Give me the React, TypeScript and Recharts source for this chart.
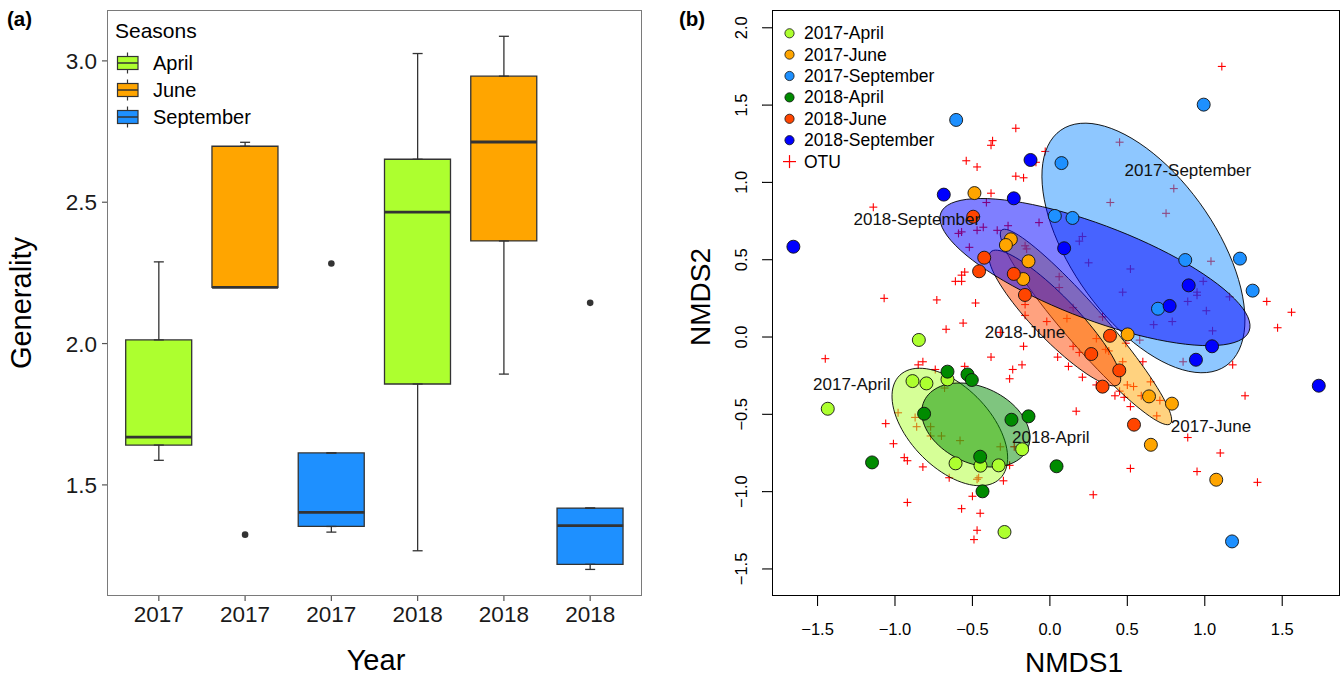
import React from "react";
import {
  ComposedChart,
  ScatterChart,
  Bar,
  Cell,
  Scatter,
  ErrorBar,
  XAxis,
  YAxis,
} from "recharts";

const FONT = "'Liberation Sans', Arial, Helvetica, sans-serif";

// ---- panel (a): generality box plots ----
const boxKeys = ["2017-April", "2017-June", "2017-September", "2018-April", "2018-June", "2018-September"];
const boxSeasons = ["April", "June", "September", "April", "June", "September"];
const whiskerLow = [1.587, 2.199, 1.333, 1.267, 1.892, 1.201];
const q1 = [1.641, 2.199, 1.353, 1.857, 2.363, 1.219];
const median = [1.669, 2.199, 1.403, 2.465, 2.713, 1.356];
const q3 = [2.013, 2.698, 1.613, 2.652, 2.946, 1.418];
const whiskerHigh = [2.289, 2.712, 1.613, 3.026, 3.087, 1.418];
const outlier = [null, 1.324, 2.283, null, null, 2.144];
const genTicks = [1.5, 2.0, 2.5, 3.0];

const seasonNames = ["April", "June", "September"];
const seasonColors: Record<string, string> = {
  April: "#ADFF2F",
  June: "#FFA500",
  September: "#1E90FF",
};

const boxData = boxKeys.map((key, i) => ({
  key,
  season: boxSeasons[i],
  box: [q1[i], q3[i]],
  q1: q1[i],
  q3: q3[i],
  median: median[i],
  outlier: outlier[i],
  upErr: [0, whiskerHigh[i] - q3[i]],
  loErr: [q1[i] - whiskerLow[i], 0],
}));

// ---- panel (b): NMDS ----
const groupNames = ["2017-April", "2017-June", "2017-September", "2018-April", "2018-June", "2018-September"];
const groupColors = ["#ADFF2F", "#FFA500", "#1E90FF", "#008B00", "#FF4500", "#0000FF"];

const april2017 = [[-1.434, -0.464], [-0.846, -0.019], [-0.887, -0.285], [-0.797, -0.30], [-0.661, -0.274], [-0.609, -0.817], [-0.448, -0.832], [-0.331, -0.830], [-0.179, -0.726], [-0.293, -1.261]];
const june2017 = [[-0.487, 0.931], [-0.252, 0.632], [-0.284, 0.595], [-0.138, 0.490], [-0.172, 0.375], [0.502, 0.017], [0.640, -0.384], [0.788, -0.431], [0.652, -0.697], [1.074, -0.923]];
const sept2017 = [[-0.605, 1.404], [0.993, 1.503], [0.075, 1.125], [0.032, 0.783], [0.146, 0.770], [0.874, 0.498], [1.227, 0.507], [1.309, 0.300], [0.698, 0.183], [1.176, -1.322]];
const april2018 = [[-1.148, -0.811], [-0.661, -0.224], [-0.532, -0.242], [-0.504, -0.278], [-0.812, -0.496], [-0.450, -0.774], [-0.435, -0.998], [-0.248, -0.535], [-0.138, -0.513], [0.043, -0.836]];
const june2018 = [[-0.495, 0.778], [-0.424, 0.513], [-0.457, 0.425], [-0.233, 0.408], [-0.161, 0.272], [0.388, 0.008], [0.267, -0.110], [0.448, -0.216], [0.340, -0.321], [0.543, -0.567]];
const sept2018 = [[-1.656, 0.584], [-0.685, 0.921], [-0.233, 0.897], [-0.125, 1.145], [0.092, 0.574], [0.896, 0.334], [0.773, 0.201], [1.047, -0.060], [0.943, -0.147], [1.736, -0.315]];
const groupPoints = [april2017, june2017, sept2017, april2018, june2018, sept2018];

// OTU scores (red crosses)
const otu = [
  [-0.37, 1.27], [-0.38, 1.24], [-0.54, 1.14], [-0.47, 1.10], [-0.38, 0.93], [-1.14, 0.84], [-0.41, 0.87], [-0.43, 0.71], [-0.47, 0.69], [-0.59, 0.67],
  [-0.57, 0.68], [-0.52, 0.58], [-0.55, 0.42], [-0.57, 0.40], [-0.61, 0.36], [-0.57, 0.36], [-1.07, 0.25], [-0.73, 0.24], [-0.48, 0.22], [-0.56, 0.09],
  [-0.67, 0.05], [-0.32, 0.03], [-0.22, 1.04], [-0.17, 1.03], [-0.03, 1.20], [-0.07, 0.74], [-0.27, 0.72], [-0.34, 0.69], [-0.16, 0.59], [-0.15, 0.57],
  [0.19, 0.62], [0.21, 0.65], [0.25, 0.48], [0.06, 0.39], [0.06, 0.32], [-0.16, 0.21], [0.15, 0.19], [-0.16, 0.14], [-0.02, 0.10], [0.11, 0.12],
  [0.30, -0.01], [-0.17, -0.06], [0.15, -0.06], [0.19, -0.10], [-0.38, -0.13], [0.05, -0.13], [-0.18, -0.18], [-0.24, -0.21], [0.12, -0.19], [-0.55, -0.19],
  [-0.85, -0.18], [-0.82, -0.16], [-0.74, -0.21], [-0.26, -0.27], [0.21, -0.26], [1.11, 1.75], [-0.22, 1.35], [0.45, 1.26], [-0.09, 1.13], [0.80, 0.96],
  [0.39, 0.87], [0.75, 0.80], [1.04, 0.49], [0.52, 0.44], [0.99, 0.36], [0.47, 0.29], [0.95, 0.29], [0.95, 0.27], [1.16, 0.26], [1.40, 0.23],
  [1.56, 0.16], [0.89, 0.23], [1.01, 0.17], [1.47, 0.06], [0.34, 0.13], [0.67, 0.08], [0.79, 0.10], [1.05, 0.04], [0.36, -0.08], [0.38, -0.09],
  [0.49, -0.04], [0.58, -0.02], [0.60, -0.16], [0.47, -0.16], [0.65, -0.29], [0.50, -0.31], [0.54, -0.32], [0.30, -0.31], [0.45, -0.35], [0.42, -0.38],
  [0.48, -0.39], [0.59, -0.38], [0.52, -0.45], [0.71, -0.41], [0.69, -0.51], [0.17, -0.48], [1.26, -0.38], [1.18, -0.18], [0.86, -0.16], [0.89, -0.65],
  [1.10, -0.75], [0.95, -0.87], [1.34, -0.94], [0.52, -0.85], [0.28, -1.02], [-0.26, -0.83], [-0.30, -0.93], [-0.23, -0.71], [-1.45, -0.14], [-0.68, -0.33],
  [-0.98, -0.49], [-1.06, -0.56], [-0.87, -0.52], [-0.86, -0.58], [-0.77, -0.58], [-0.77, -0.64], [-0.70, -0.64], [-0.58, -0.67], [-1.01, -0.69], [-0.94, -0.78],
  [-0.92, -0.80], [-0.82, -0.84], [-0.65, -0.91], [-0.47, -0.92], [-0.46, -0.91], [-0.92, -1.07], [-0.50, -1.03], [-0.57, -1.11], [-0.45, -1.14], [-0.47, -1.25],
  [-0.49, -1.31], [-0.32, -0.71],
];

// group ellipses: centre, semi-axes and rotation (degrees, NMDS space)
const ellipseCx = [-0.646, 0.233, 0.604, -0.478, 0.032, 0.291];
const ellipseCy = [-0.582, 0.065, 0.576, -0.569, 0.123, 0.420];
const ellipseA = [0.465, 0.83, 0.93, 0.368, 0.595, 1.066];
const ellipseB = [0.26, 0.13, 0.465, 0.246, 0.14, 0.304];
const ellipseAngle = [-46, -49, -55, -25, -46, -21];

const labelX = [-1.279, 1.040, 0.891, 0.006, -0.161, -0.859];
const labelY = [-0.310, -0.576, 1.080, -0.647, 0.026, 0.763];

const xTicksB = [-1.5, -1.0, -0.5, 0.0, 0.5, 1.0, 1.5];
const yTicksB = [-1.5, -1.0, -0.5, 0.0, 0.5, 1.0, 1.5, 2.0];

function ellipseOutline(i: number) {
  const phi = (ellipseAngle[i] * Math.PI) / 180;
  const pts: { x: number; y: number }[] = [];
  const n = 90;
  for (let k = 0; k <= n; k++) {
    const t = (k / n) * 2 * Math.PI;
    const u = ellipseA[i] * Math.cos(t);
    const v = ellipseB[i] * Math.sin(t);
    pts.push({
      x: ellipseCx[i] + u * Math.cos(phi) - v * Math.sin(phi),
      y: ellipseCy[i] + u * Math.sin(phi) + v * Math.cos(phi),
    });
  }
  return pts;
}

const otuData = otu.map(([x, y]) => ({ x, y }));
const labelData = groupNames.map((label, i) => ({ x: labelX[i], y: labelY[i], label }));

const fmtMinus = (v: number) => v.toFixed(1).replace("-", "\u2212");

const Empty = () => <g />;

const MedianLine = (p: any) =>
  p.cy == null || isNaN(p.cy) ? <g /> : (
    <line x1={p.cx - 33} x2={p.cx + 33} y1={p.cy} y2={p.cy} stroke="#333" strokeWidth={2.8} />
  );

const OutlierDot = (p: any) =>
  p.cy == null || isNaN(p.cy) ? <g /> : <circle cx={p.cx} cy={p.cy} r={3.3} fill="#333" />;

const Cross = (p: any) => (
  <g stroke="#FF0000" strokeWidth={1.1}>
    <line x1={p.cx - 4} x2={p.cx + 4} y1={p.cy} y2={p.cy} />
    <line x1={p.cx} x2={p.cx} y1={p.cy - 4} y2={p.cy + 4} />
  </g>
);

const makeDot = (color: string) => (p: any) => (
  <circle cx={p.cx} cy={p.cy} r={6.5} fill={color} stroke="#111" strokeWidth={0.9} />
);

const GroupLabel = (p: any) => (
  <text x={p.cx} y={p.cy} textAnchor="middle" dominantBaseline="central" fontSize={17} fontFamily={FONT} fill="#111">
    {p.payload.label}
  </text>
);

const RotatedTick = (p: any) => {
  const bx = p.x - 14.5;
  return (
    <text x={bx} y={p.y} transform={`rotate(-90 ${bx} ${p.y})`} textAnchor="middle" fontSize={16.5} fontFamily={FONT} fill="#000">
      {fmtMinus(p.payload.value)}
    </text>
  );
};

const legendAY = [63, 90, 117];
const legendBY = [33.3, 54.6, 76, 97.4, 118.8, 140.2, 161.6];

export default function App() {
  return (
    <div style={{ position: "relative", width: 1342, height: 678, background: "#fff", fontFamily: FONT }}>
      <style>{`body { margin: 0; }`}</style>

      {/* (a) box plots */}
      <div style={{ position: "absolute", left: 0, top: 0 }}>
        <ComposedChart width={660} height={678} data={boxData} margin={{ top: 10, right: 18, bottom: 52, left: 0 }}>
          <XAxis
            dataKey="key"
            type="category"
            padding={{ left: 8.7, right: 8.7 }}
            height={30}
            tickSize={5}
            tickMargin={5}
            axisLine={false}
            tickLine={{ stroke: "#555", strokeWidth: 1.2 }}
            tick={{ fontSize: 22.5, fill: "#1a1a1a", fontFamily: FONT }}
            tickFormatter={(v: string) => v.split("-")[0]}
            interval={0}
          />
          <YAxis
            type="number"
            domain={[1.107, 3.18]}
            allowDataOverflow
            ticks={genTicks}
            tickFormatter={(v: number) => v.toFixed(1)}
            width={107}
            tickSize={5}
            tickMargin={5}
            axisLine={false}
            tickLine={{ stroke: "#555", strokeWidth: 1.2 }}
            tick={{ fontSize: 22.5, fill: "#1a1a1a", fontFamily: FONT }}
          />
          <Scatter dataKey="q3" shape={Empty} isAnimationActive={false}>
            <ErrorBar dataKey="upErr" direction="y" width={5} stroke="#333" strokeWidth={1.3} />
          </Scatter>
          <Scatter dataKey="q1" shape={Empty} isAnimationActive={false}>
            <ErrorBar dataKey="loErr" direction="y" width={5} stroke="#333" strokeWidth={1.3} />
          </Scatter>
          <Bar dataKey="box" barSize={66} stroke="#333" strokeWidth={1.3} isAnimationActive={false}>
            {boxData.map((d) => (
              <Cell key={d.key} fill={seasonColors[d.season]} />
            ))}
          </Bar>
          <Scatter dataKey="median" shape={MedianLine} isAnimationActive={false} />
          <Scatter dataKey="outlier" shape={OutlierDot} isAnimationActive={false} />
        </ComposedChart>
      </div>

      {/* (b) NMDS */}
      <div style={{ position: "absolute", left: 680, top: 0 }}>
        <ScatterChart width={662} height={678} margin={{ top: 10, right: 2, bottom: 52, left: 0 }}>
          <XAxis
            type="number"
            dataKey="x"
            domain={[-1.794, 1.873]}
            allowDataOverflow
            ticks={xTicksB}
            tickFormatter={fmtMinus}
            height={30}
            tickSize={10}
            tickMargin={17}
            axisLine={false}
            tickLine={{ stroke: "#000", strokeWidth: 1.1 }}
            tick={{ fontSize: 16.5, fill: "#000", fontFamily: FONT }}
          />
          <YAxis
            type="number"
            dataKey="y"
            domain={[-1.675, 2.115]}
            allowDataOverflow
            ticks={yTicksB}
            width={92}
            tickSize={10}
            tickMargin={0}
            axisLine={false}
            tickLine={{ stroke: "#000", strokeWidth: 1.1 }}
            tick={RotatedTick}
          />
          <Scatter data={otuData} shape={Cross} isAnimationActive={false} />
          {groupNames.map((g, i) => (
            <Scatter
              key={`ell-${g}`}
              data={ellipseOutline(i)}
              shape={Empty}
              lineType="joint"
              line={{ stroke: "#000", strokeWidth: 0.9, fill: groupColors[i], fillOpacity: 0.5 }}
              isAnimationActive={false}
            />
          ))}
          {groupNames.map((g, i) => (
            <Scatter
              key={`pts-${g}`}
              data={groupPoints[i].map(([x, y]) => ({ x, y }))}
              shape={makeDot(groupColors[i])}
              isAnimationActive={false}
            />
          ))}
          <Scatter data={labelData} shape={GroupLabel} isAnimationActive={false} />
        </ScatterChart>
      </div>

      {/* panel frames */}
      <div style={{ position: "absolute", left: 107, top: 10, width: 535, height: 586, border: "1.2px solid #7a7a7a", boxSizing: "border-box", pointerEvents: "none" }} />
      <div style={{ position: "absolute", left: 772, top: 10, width: 568, height: 586, border: "1.5px solid #000", boxSizing: "border-box", pointerEvents: "none" }} />

      {/* titles and legends */}
      <svg width={1342} height={678} style={{ position: "absolute", left: 0, top: 0, pointerEvents: "none" }} fontFamily={FONT}>
        <text x={7} y={26} fontSize={20.5} fontWeight="bold" fill="#000">(a)</text>
        <text x={679} y={26} fontSize={20.5} fontWeight="bold" fill="#000">(b)</text>

        <text x={21} y={303} fontSize={29} fill="#000" textAnchor="middle" dominantBaseline="central" transform="rotate(-90 21 303)">Generality</text>
        <text x={376} y={660} fontSize={29} fill="#000" textAnchor="middle" dominantBaseline="central">Year</text>
        <text x={700} y={297} fontSize={28} fill="#000" textAnchor="middle" dominantBaseline="central" transform="rotate(-90 700 297)">NMDS2</text>
        <text x={1074} y={662} fontSize={28} fill="#000" textAnchor="middle" dominantBaseline="central">NMDS1</text>

        <text x={115} y={30} fontSize={21} fill="#000" dominantBaseline="central">Seasons</text>
        {seasonNames.map((s, i) => {
          const yc = legendAY[i];
          return (
            <g key={s}>
              <line x1={127.5} x2={127.5} y1={yc - 10.5} y2={yc + 10.5} stroke="#333" strokeWidth={1.2} />
              <rect x={117.5} y={yc - 6.5} width={20.5} height={13} fill={seasonColors[s]} stroke="#333" strokeWidth={1.2} />
              <line x1={117.5} x2={138} y1={yc} y2={yc} stroke="#333" strokeWidth={1.5} />
              <text x={153} y={yc} fontSize={20} fill="#000" dominantBaseline="central">{s}</text>
            </g>
          );
        })}

        {groupNames.map((g, i) => (
          <g key={g}>
            <circle cx={789.5} cy={legendBY[i]} r={4.6} fill={groupColors[i]} stroke="#111" strokeWidth={0.8} />
            <text x={804} y={legendBY[i]} fontSize={17.5} fill="#000" dominantBaseline="central">{g}</text>
          </g>
        ))}
        <g stroke="#FF0000" strokeWidth={1.2}>
          <line x1={783} x2={796} y1={legendBY[6]} y2={legendBY[6]} />
          <line x1={789.5} x2={789.5} y1={legendBY[6] - 6.5} y2={legendBY[6] + 6.5} />
        </g>
        <text x={804} y={legendBY[6]} fontSize={17.5} fill="#000" dominantBaseline="central">OTU</text>
      </svg>
    </div>
  );
}
